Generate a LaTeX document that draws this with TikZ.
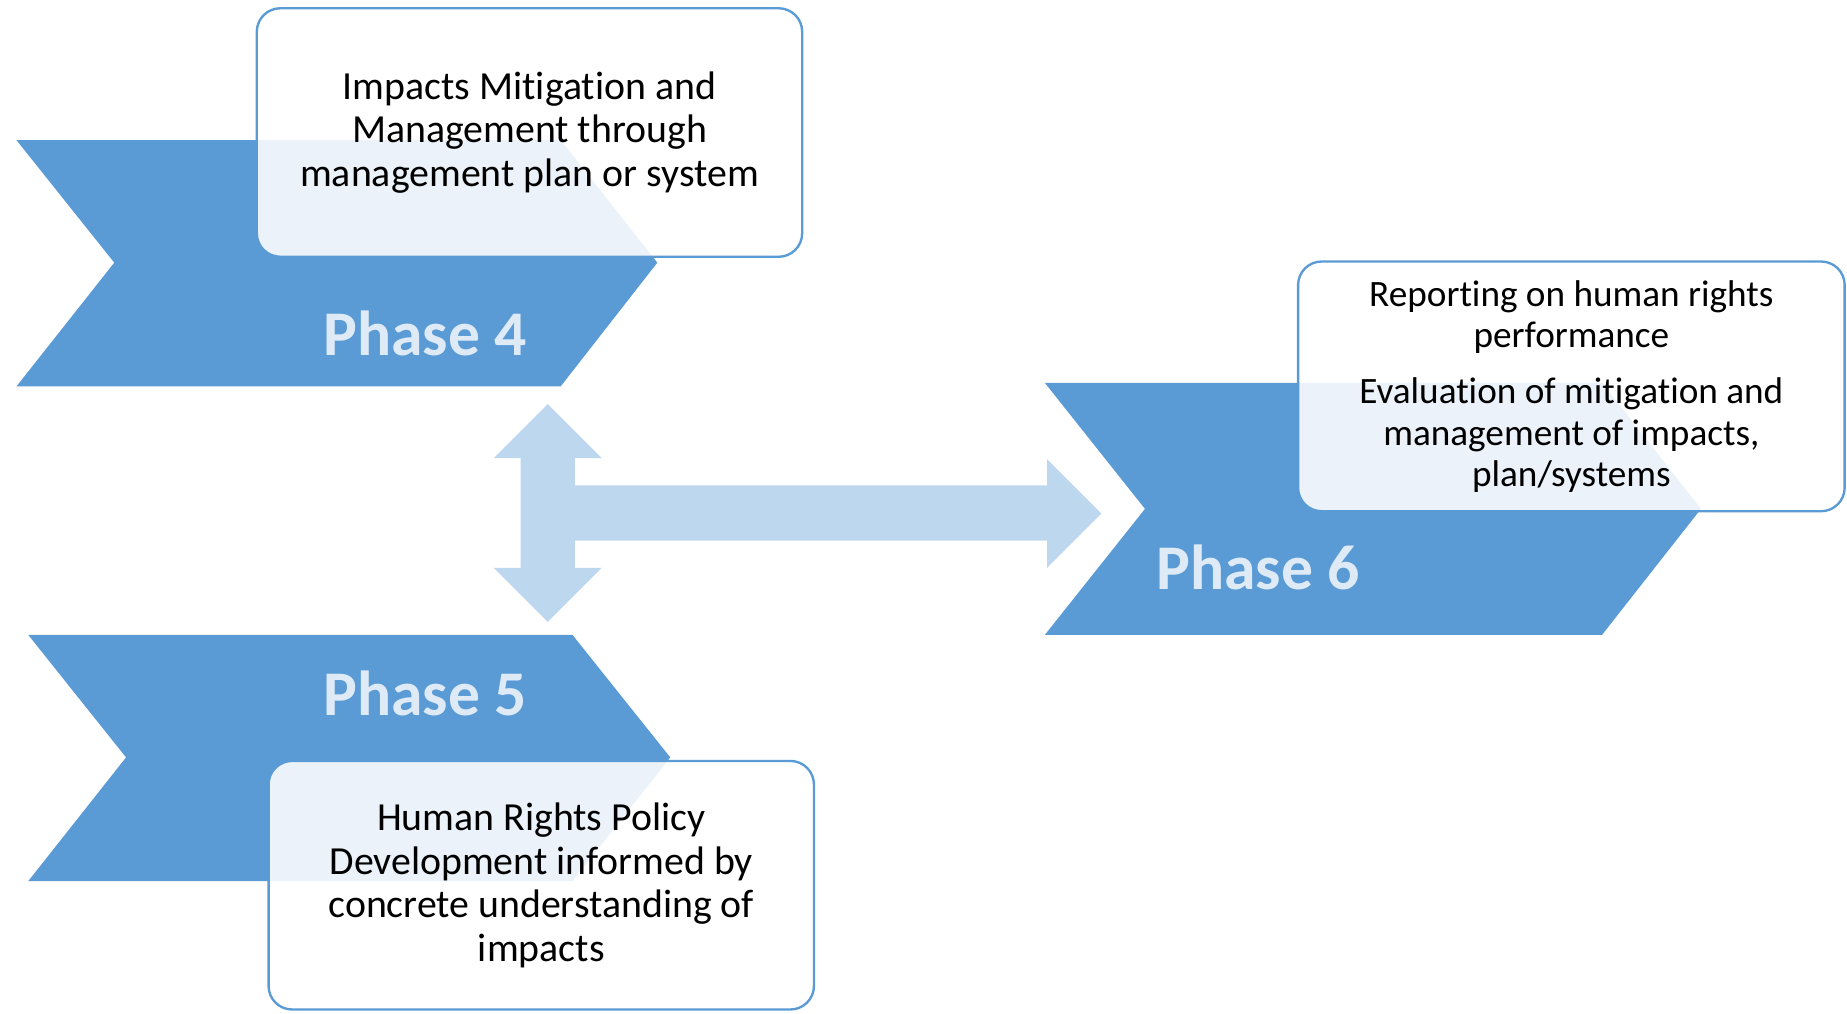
\documentclass[tikz,border=0pt]{standalone}
\usepackage{fontspec}
\setmainfont{Carlito}[Ligatures=NoCommon]
\usepackage{tikz}
\usetikzlibrary{calc}
\usepackage{xcolor}
\definecolor{chev}{HTML}{5B9BD5}
\definecolor{chevtext}{HTML}{DEEBF7}
\definecolor{arr}{HTML}{BDD7EE}

\begin{document}
\begin{tikzpicture}[x=0.5pt, y=-0.5pt, chevron/.style={fill=chev, draw=none}, box/.style={draw=chev, line width=1pt, fill=white, fill opacity=0.88, text opacity=1, rounded corners=10pt, align=center, font=\fontsize{16.9}{18.5}\selectfont, inner sep=0pt}, phase/.style={text=chevtext, font=\fontsize{27}{30}\selectfont\bfseries}]
\useasboundingbox (0,0) rectangle (1568,860);
\path[chevron] (14,119) -- (476,119) -- (558,223) -- (476,328) -- (14,328) -- (97,223) -- cycle;
\path[chevron] (24,539) -- (486,539) -- (569,643) -- (486,748) -- (24,748) -- (107,643) -- cycle;
\path[chevron] (887,325) -- (1360,325) -- (1444,432) -- (1360,539) -- (887,539) -- (972,432) -- cycle;
\node[phase] (p4) at (361,283) {Phase 4};
\node[phase] (p5) at (361,589) {Phase 5};
\node[phase] (p6) at (1068,482) {Phase 6};
\node[box, minimum width=231.5pt, minimum height=105.5pt] (b4) at (449.5,112.5) {Impacts Mitigation and\\Management through\\management plan or system};
\node[box, minimum width=231.5pt, minimum height=105.5pt] (b5) at (459.5,751.5) {Human Rights Policy\\Development informed by\\concrete understanding of\\impacts};
\node[box, minimum width=232pt, minimum height=106pt, font=\fontsize{15.8}{17.5}\selectfont] (b6) at (1334,328) {Reporting on human rights\\performance\\[6.5pt]Evaluation of mitigation and\\management of impacts,\\plan/systems};
\fill[arr] (465,343) -- (511,389) -- (488,389) -- (488,412) -- (889,412) -- (889,390) -- (935,436) -- (889,482) -- (889,459) -- (488,459) -- (488,482) -- (511,482) -- (465,528) -- (419,482) -- (442,482) -- (442,389) -- (419,389) -- cycle;
\end{tikzpicture}
\end{document}
